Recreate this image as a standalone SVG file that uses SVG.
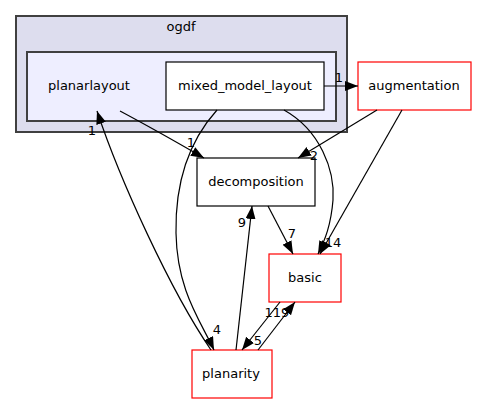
<svg xmlns="http://www.w3.org/2000/svg" width="477" height="404" viewBox="0 0 477 404">
<defs>
<style>
text{font-family:"DejaVu Sans","Liberation Sans",sans-serif;font-size:13px;fill:#000;text-anchor:middle}
.cl{stroke:#404040;stroke-width:2}
.box{fill:#fff;stroke:#000;stroke-width:1.2}
.red{fill:#fff;stroke:#ff0000;stroke-width:1.2}
.e{fill:none;stroke:#000;stroke-width:1.2;marker-end:url(#ah)}
</style>
<marker id="ah" markerUnits="userSpaceOnUse" markerWidth="14" markerHeight="11" refX="13" refY="5" orient="auto">
<path d="M0,0 L13,5 L0,10 z" fill="#000"/>
</marker>
</defs>
<g id="cluster_ogdf">
<rect class="cl" x="16" y="16" width="331" height="116" fill="#ddddee"/>
<text x="181" y="31">ogdf</text>
</g>
<g id="cluster_planarlayout">
<rect class="cl" x="27" y="52" width="309" height="69" fill="#eeeeff"/>
<text x="89" y="90">planarlayout</text>
</g>
<g id="mixed_model_layout">
<rect class="box" x="166" y="62" width="158" height="48"/>
<text x="245" y="90">mixed_model_layout</text>
</g>
<g id="augmentation">
<rect class="red" x="358" y="62" width="113" height="48"/>
<text x="414" y="90">augmentation</text>
</g>
<g id="decomposition">
<rect class="box" x="197" y="158" width="118" height="48"/>
<text x="256" y="186">decomposition</text>
</g>
<g id="basic">
<rect class="red" x="269" y="254" width="72" height="48"/>
<text x="305" y="282">basic</text>
</g>
<g id="planarity">
<rect class="red" x="192" y="350" width="80" height="48"/>
<text x="231" y="378">planarity</text>
</g>
<g id="edges">
<path class="e" d="M324,86 L358,86"/>
<text x="339" y="82">1</text>
<path class="e" d="M120,111 C150,127 185,147 204,158"/>
<text x="191" y="147">1</text>
<path class="e" d="M211,350 C170,290 120,180 97,111"/>
<text x="92" y="135">1</text>
<path class="e" d="M217,110 C190,140 175,180 176,233 C177,290 200,320 214,350"/>
<text x="217" y="334">4</text>
<path class="e" d="M377,110 L298,158"/>
<text x="314" y="160">2</text>
<path class="e" d="M402,110 L320,254"/>
<path class="e" d="M284,110 C320,130 335,170 333,200 C331,225 325,240 318,254"/>
<text x="333" y="247">14</text>
<path class="e" d="M268,206 L293,254"/>
<text x="292" y="238">7</text>
<path class="e" d="M236,350 L252,206"/>
<text x="242" y="227">9</text>
<path class="e" d="M280,302 L242,350"/>
<text x="258" y="345">5</text>
<path class="e" d="M258,350 L295,302"/>
<text x="277" y="317">119</text>
</g>
</svg>
